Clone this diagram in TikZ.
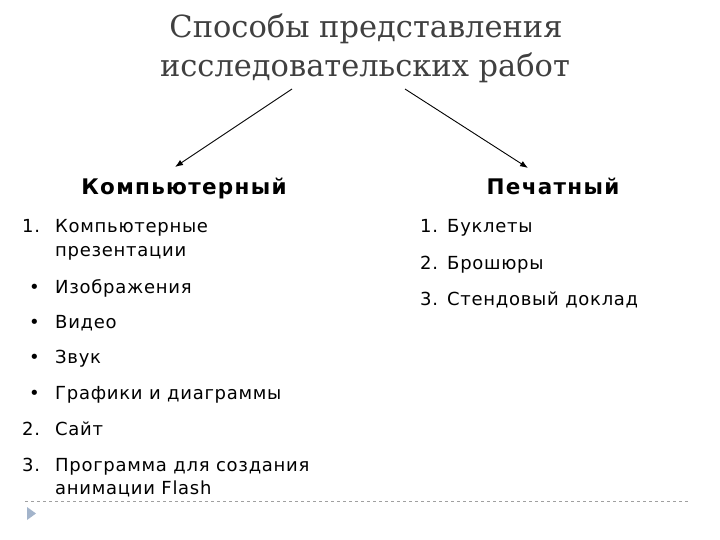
\documentclass[tikz,border=0pt]{standalone}
\usepackage{fontspec}
\setmainfont{DejaVu Sans}
\newfontfamily\titlefont{DejaVu Serif}
\newfontfamily\itemfont[LetterSpace=4]{DejaVu Sans}
\newfontfamily\headfont[LetterSpace=6]{DejaVu Sans Bold}
\usetikzlibrary{arrows.meta}
\definecolor{titlegray}{HTML}{404040}
\definecolor{rulegray}{HTML}{A0A0A0}
\definecolor{markblue}{HTML}{A3B4CB}

\tikzset{
    title/.style={anchor=base, inner sep=0pt, text=titlegray, font=\titlefont\fontsize{30.5}{30.5}\selectfont},
    head/.style={anchor=base, inner sep=0pt, font=\headfont\fontsize{21.5}{21.5}\selectfont},
    item/.style={anchor=base west, inner sep=0pt, font=\itemfont\fontsize{18}{18}\selectfont},
}

\begin{document}
\begin{tikzpicture}[x=1pt,y=-1pt]
        \useasboundingbox (0,0) rectangle (720,540);
        % title
        \node[title] (T1) at (366,38) {Способы представления};
        \node[title] (T2) at (365,77) {исследовательских работ};
        % arrows
        \coordinate (LA) at (292,89);
        \coordinate (LB) at (175,167);
        \coordinate (RA) at (405,89);
        \coordinate (RB) at (528,168);
        \draw[-{Latex[length=8pt,width=6pt]}, black, line width=0.9pt] (LA) -- (LB);
        \draw[-{Latex[length=8pt,width=6pt]}, black, line width=0.9pt] (RA) -- (RB);
        % headings
        \node[head] (K) at (184,195) {Компьютерный};
        \node[head] (P) at (553,195) {Печатный};
        % left list
        \node[item] (K1n) at (22,233) {1.};
        \node[item] (K1) at (55,233) {Компьютерные};
        \node[item] (K1b) at (55,256) {презентации};
        \node[item] (B1n) at (29,293) {\textbullet};
        \node[item] (B1) at (55,293) {Изображения};
        \node[item] (B2n) at (29,328) {\textbullet};
        \node[item] (B2) at (55,328) {Видео};
        \node[item] (B3n) at (29,363) {\textbullet};
        \node[item] (B3) at (55,363) {Звук};
        \node[item] (B4n) at (29,399) {\textbullet};
        \node[item] (B4) at (55,399) {Графики и диаграммы};
        \node[item] (K2n) at (22,435) {2.};
        \node[item] (K2) at (55,435) {Сайт};
        \node[item] (K3n) at (22,471) {3.};
        \node[item] (K3) at (55,471) {Программа для создания};
        \node[item] (K3b) at (55,494) {анимации Flash};
        % right list
        \node[item] (P1n) at (420,233) {1.};
        \node[item] (P1) at (447,233) {Буклеты};
        \node[item] (P2n) at (420,269) {2.};
        \node[item] (P2) at (447,269) {Брошюры};
        \node[item] (P3n) at (420,305) {3.};
        \node[item] (P3) at (447,305) {Стендовый доклад};
        % footer
        \draw[rulegray, dashed, line width=0.8pt] (25,501) -- (688,501);
        \fill[markblue] (27,507) -- (36,513.5) -- (27,520) -- cycle;
\end{tikzpicture}
\end{document}
